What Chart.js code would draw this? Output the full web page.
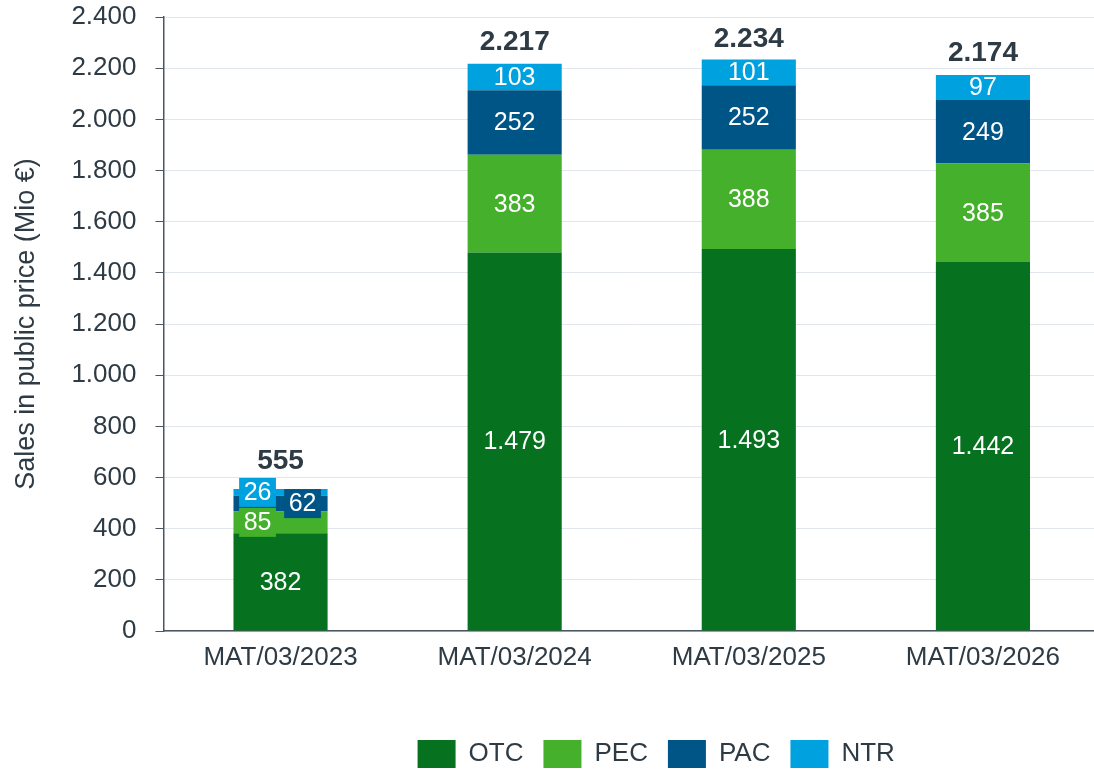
<!DOCTYPE html>
<html><head><meta charset="utf-8">
<script src="https://cdn.jsdelivr.net/npm/chart.js@4"></script>
<style>
html,body{margin:0;padding:0;overflow:hidden;background:#fff;width:1094px;height:769px}
#wrap{width:1100px;height:778px;position:relative}
</style>
</head><body><div id="wrap"><canvas id="c"></canvas></div>
<script>
const categories = ['MAT/03/2023', 'MAT/03/2024', 'MAT/03/2025', 'MAT/03/2026'];
const seriesNames = ['OTC', 'PEC', 'PAC', 'NTR'];
const otcValues = [382, 1479, 1493, 1442];
const pecValues = [85, 383, 388, 385];
const pacValues = [62, 252, 252, 249];
const ntrValues = [26, 103, 101, 97];
const totalValues = [555, 2217, 2234, 2174];
const yTickLabels = ['0', '200', '400', '600', '800', '1.000', '1.200', '1.400', '1.600', '1.800', '2.000', '2.200', '2.400'];

const FONT = "'Liberation Sans', Arial, sans-serif";
const TEXT = '#2e3b45';
const AXIS = '#4a5661';
const colors = ['#06711f', '#44b02b', '#005587', '#00a1df'];

function fmt(v) { return String(v).replace(/\B(?=(\d{3})+(?!\d))/g, '.'); }

// label placement tweaks for the small first bar: bar index -> dataset index -> x shift
const smallLabelShift = { 0: { 1: -23, 2: 22, 3: -23 } };
const totalGap = [28, 22, 20, 22];

const labelPlugin = {
  id: 'segLabels',
  afterDatasetsDraw(chart) {
    const ctx = chart.ctx;
    ctx.save();
    ctx.font = '25px ' + FONT;
    ctx.textAlign = 'center';
    ctx.textBaseline = 'middle';
    chart.data.datasets.forEach((ds, di) => {
      const meta = chart.getDatasetMeta(di);
      meta.data.forEach((el, i) => {
        const txt = fmt(ds.data[i]);
        const cy = (el.y + el.base) / 2;
        let cx = el.x;
        const shift = smallLabelShift[i] ? smallLabelShift[i][di] : undefined;
        if (shift !== undefined) {
          cx += shift;
          const w = ctx.measureText(txt).width + 9;
          const h = 29;
          ctx.fillStyle = ds.backgroundColor;
          ctx.fillRect(cx - w / 2, cy - h / 2, w, h);
        }
        ctx.fillStyle = '#ffffff';
        ctx.fillText(txt, cx, cy + 1);
      });
    });
    ctx.font = 'bold 28px ' + FONT;
    ctx.fillStyle = TEXT;
    const last = chart.getDatasetMeta(chart.data.datasets.length - 1);
    last.data.forEach((el, i) => {
      ctx.fillText(fmt(totalValues[i]), el.x, el.y - totalGap[i]);
    });
    ctx.restore();
  }
};

const legendShift = {
  id: 'legendShift',
  afterLayout(chart) {
    const lg = chart.legend;
    if (!lg) return;
    lg.left += 24.5;
    lg.right += 24.5;
  }
};

const seriesValues = [otcValues, pecValues, pacValues, ntrValues];

new Chart(document.getElementById('c'), {
  type: 'bar',
  data: {
    labels: categories,
    datasets: seriesNames.map((name, k) => ({
      label: name,
      data: seriesValues[k],
      backgroundColor: colors[k],
      borderWidth: 0,
      barPercentage: 0.402,
      categoryPercentage: 1
    }))
  },
  options: {
    responsive: true,
    maintainAspectRatio: false,
    animation: false,
    layout: { padding: { top: 0, right: 0, left: 0, bottom: 0 } },
    plugins: {
      tooltip: { enabled: false },
      legend: {
        position: 'bottom',
        fullSize: false,
        title: { display: true, text: '', font: { size: 10, lineHeight: 1.2 }, padding: { top: 0, bottom: 23.8 } },
        labels: {
          boxWidth: 38, boxHeight: 28, padding: 20, color: TEXT,
          font: { size: 26, family: FONT }
        }
      }
    },
    scales: {
      x: {
        stacked: true,
        grid: { display: false, drawTicks: false },
        border: { display: true, color: AXIS, width: 1.5 },
        ticks: { padding: 11, color: TEXT, font: { size: 26, family: FONT }, maxRotation: 0 }
      },
      y: {
        stacked: true,
        min: 0, max: 2400,
        afterFit: (scale) => { scale.paddingTop = 17; },
        ticks: {
          stepSize: 200, padding: 19, color: TEXT,
          font: { size: 26, family: FONT },
          callback: (v, i) => yTickLabels[i]
        },
        grid: { color: '#e1e5ee', lineWidth: 1, tickColor: AXIS, tickLength: 8, drawTicks: true },
        border: { color: AXIS, width: 1.5 },
        title: {
          display: true, text: 'Sales in public price (Mio €)', color: TEXT,
          font: { size: 27, family: FONT }, padding: { top: 10, bottom: 10 }
        }
      }
    }
  },
  plugins: [labelPlugin, legendShift]
});
</script>
</body></html>
